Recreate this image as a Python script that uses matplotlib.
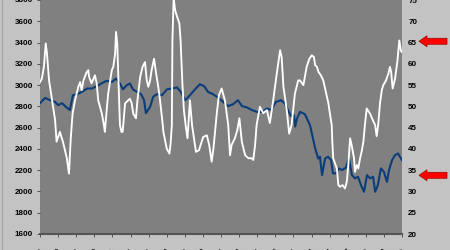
import matplotlib
matplotlib.use("Agg")
import matplotlib.pyplot as plt
from matplotlib.patches import FancyArrow
from matplotlib.lines import Line2D

# ---- data ----
# x positions in months since Jan-89
blue_m = [0, 1.7, 3.3, 5.0, 6.0, 7.3, 8.6, 9.9, 10.9, 12.3, 13.9, 15.6, 17.2, 18.9, 20.6, 22.2,
          23.9, 25.2, 26.5, 27.5, 28.8, 29.8, 30.8, 32.2, 33.5, 34.5, 35.1, 36.5, 37.5, 38.8,
          40.4, 42.1, 43.8, 45.4, 46.7, 48.1, 49.7, 51.4, 53.0, 54.4, 55.7, 57.3, 59.0, 60.7,
          62.3, 64.0, 65.6, 67.0, 68.6, 70.3, 71.9, 73.6, 75.3, 76.6, 78.2, 79.9, 81.2, 82.2,
          83.2, 84.2, 84.6, 85.2, 86.2, 87.8, 89.5, 91.2, 92.2, 92.8, 93.5, 94.5, 95.5, 96.5,
          97.1, 98.1, 99.1, 100.1, 101.4, 102.4, 103.4, 104.4, 105.4, 106.4, 107.4, 108.4,
          109.4, 110.4, 111.1, 112.0, 113.0, 114.0, 115.0, 115.7, 116.7, 117.7, 118.7, 119.3, 120.0]
blue_v = [2830, 2880, 2858, 2842, 2811, 2830, 2795, 2765, 2905, 2915, 2936, 2968, 2968, 2990, 3020, 3040,
          3030, 3062, 3015, 2960, 3000, 3015, 2960, 2936, 2915, 2858, 2736, 2795, 2890, 2915,
          2905, 2960, 2968, 2978, 2936, 2858, 2905, 2960, 3008, 2990, 2936, 2915, 2884, 2842,
          2802, 2820, 2858, 2802, 2790, 2765, 2748, 2748, 2780, 2765, 2842, 2858, 2827, 2765,
          2708, 2717, 2610, 2686, 2748, 2727, 2624, 2407, 2310, 2326, 2154, 2310, 2326, 2295,
          2170, 2170, 2217, 2201, 2223, 2310, 2154, 2123, 2138, 2060, 1997, 2154,
          2123, 2138, 1997, 2060, 2217, 2185, 2091, 2201, 2295, 2342, 2357, 2326, 2295]

white_m = [0, 0.6, 1.3, 1.9, 2.3, 3.0, 4.0, 5.0, 5.5, 6.6, 7.7, 8.9, 9.6, 10.2, 10.8, 11.6, 12.7,
           13.3, 13.8, 14.4, 15.5, 16.0, 16.3, 17.1, 18.2, 18.8, 19.3, 20.5, 21.2, 21.5, 22.1,
           22.6, 23.8, 24.3, 24.9, 25.2, 25.6, 26.0, 26.5, 27.0, 27.4, 28.2, 29.8, 30.4, 30.9,
           31.8, 32.3, 33.2, 34.0, 34.8, 35.4, 35.9, 36.5, 37.0, 37.8, 38.5, 39.2, 39.8, 40.7,
           40.9, 42.0, 42.9, 43.3, 43.7, 43.9, 44.3, 44.8, 45.3, 46.2, 46.6, 47.2, 47.7, 48.4,
           48.9, 49.7, 50.4, 51.7, 52.7, 54.1, 55.3, 56.1, 56.9, 57.5, 58.6, 59.3, 60.2, 61.3,
           62.4, 63.0, 63.5, 64.6, 65.4, 66.1, 66.9, 68.0, 69.1, 70.2, 70.7, 71.3, 71.8, 72.9,
           74.0, 75.2, 76.2, 77.3, 78.5, 79.6, 80.1, 80.7, 81.8, 82.6, 83.4, 84.5, 85.6, 86.2,
           87.3, 87.8, 88.4, 89.3, 90.1, 90.8, 91.2, 91.8, 92.3, 93.1, 93.9, 94.5, 95.1, 95.6,
           96.1, 96.7, 96.9, 97.2, 98.4, 98.9, 99.5, 100.3, 101.1, 101.7, 102.2, 102.8, 103.3,
           103.7, 104.1, 104.4, 105.0, 105.5, 106.1, 106.6, 107.2, 107.7, 108.3, 109.4, 110.3,
           111.1, 111.6, 112.1, 112.7, 113.3, 113.8, 114.7, 115.5, 116.0, 116.4, 116.9, 117.7,
           118.5, 119.1, 119.6, 119.9]
white_v = [55.7, 56.5, 59.3, 64.8, 62.5, 56.1, 51.4, 46.8, 41.7, 44.0, 41.4, 37.8, 34.2, 42.5, 48.3, 51.4, 54.6,
           55.7, 53.8, 56.1, 58.1, 58.5, 56.9, 55.4, 57.3, 55.4, 51.4, 48.3, 45.6, 44.0, 49.1,
           53.0, 58.5, 59.3, 62.4, 67.5, 64.8, 56.1, 45.6, 44.0, 44.0, 50.7, 51.8, 50.7, 48.3,
           47.2, 51.4, 56.9, 59.3, 60.4, 56.1, 54.6, 56.1, 58.5, 61.2, 57.7, 54.6, 51.4, 45.6,
           44.0, 40.1, 38.9, 41.3, 45.6, 65.5, 75.5, 72.6, 71.4, 69.5, 65.5, 55.4, 49.1, 44.9,
           42.5, 51.4, 45.6, 39.3, 39.7, 42.8, 43.2, 40.9, 37.0, 40.1, 48.3, 52.6, 54.2, 51.4,
           45.6, 38.5, 40.9, 42.5, 44.4, 47.2, 41.7, 38.5, 37.8, 37.8, 37.4, 40.9, 45.6, 49.9,
           48.4, 49.1, 46.1, 51.4, 57.8, 63.2, 61.6, 54.6, 49.1, 43.6, 45.6, 53.0, 56.1, 56.1,
           55.0, 56.9, 59.3, 61.2, 62.0, 61.6, 59.7, 59.3, 58.1, 57.3, 56.1, 54.2, 52.2, 50.7,
           48.3, 45.6, 41.7, 37.8, 35.4, 31.5, 31.1, 31.5, 30.7, 32.3, 36.2, 42.5, 40.9,
           39.3, 37.8, 34.6, 36.2, 35.4, 37.8, 39.3, 41.7, 45.6, 49.5, 48.3, 46.8,
           45.6, 43.0, 45.6, 50.7, 53.8, 55.0, 56.1, 57.7, 59.3, 58.1, 54.2, 56.5,
           60.8, 65.5, 63.2, 62.8]

tick_months = list(range(0, 121, 6))
tick_labels = [("Jan" if i % 2 == 0 else "Jul") + "-" + str((89 + i // 2) % 100).zfill(2) for i in range(21)]

left_ticks = list(range(1600, 3801, 200))
right_ticks = list(range(20, 76, 5))
arrow_values = [65.3, 33.8]

# ---- figure ----
fig = plt.figure(figsize=(4.5, 2.5), dpi=100)
fig.patch.set_facecolor("#c3c3c3")
W, H = 450, 250
ax = fig.add_axes([40 / W, 1 - 234 / H, (402 - 40) / W, 234 / H])
ax.set_facecolor("#808080")
ax2 = ax.twinx()

ax.plot(blue_m, blue_v, color="#0a3d7a", lw=1.5, zorder=3)
ax2.plot(white_m, white_v, color="white", lw=1.35, zorder=4)

ax.set_xlim(0, 120)
ax.set_ylim(1600, 3800)
ax2.set_ylim(20, 75)

fp = dict(family="Liberation Sans", weight="bold", size=5.8)
ax.set_yticks(left_ticks)
ax.set_yticklabels([str(t) for t in left_ticks], **fp)
ax2.set_yticks(right_ticks)
ax2.set_yticklabels([str(t) for t in right_ticks], **fp)
ax.set_xticks(tick_months)
ax.set_xticklabels(tick_labels, rotation=45, ha="right", va="top", rotation_mode="anchor", **fp)

ax.tick_params(axis="y", length=2.5, width=0.6, color="#404040", pad=2.5)
ax.tick_params(axis="x", length=2.5, width=0.6, color="#404040", pad=7)
ax2.tick_params(axis="y", length=0, pad=4.5)

for a in (ax, ax2):
    for s in ("top", "right", "left", "bottom"):
        a.spines[s].set_visible(False)
ax.spines["bottom"].set_visible(True)
ax.spines["bottom"].set_color("#555555")
ax.spines["bottom"].set_linewidth(1.5)

# thin darker border line at the left edge of the image
fig.add_artist(Line2D([1.5 / W, 1.5 / W], [0, 1], transform=fig.transFigure,
                      color="#a5a5a5", lw=0.8))

# red arrows pointing at the right axis values
for val in arrow_values:
    yfig = ax2.transData.transform((0, val))[1]
    yfrac = yfig / H
    arr = FancyArrow(447 / W, yfrac, -28 / W, 0, width=6 / H, head_width=11 / H,
                     head_length=8 / W, length_includes_head=True,
                     transform=fig.transFigure, facecolor="#ff0000", edgecolor="#a00000",
                     linewidth=0.5)
    fig.add_artist(arr)

fig.savefig("out.png", dpi=100, facecolor=fig.get_facecolor())
